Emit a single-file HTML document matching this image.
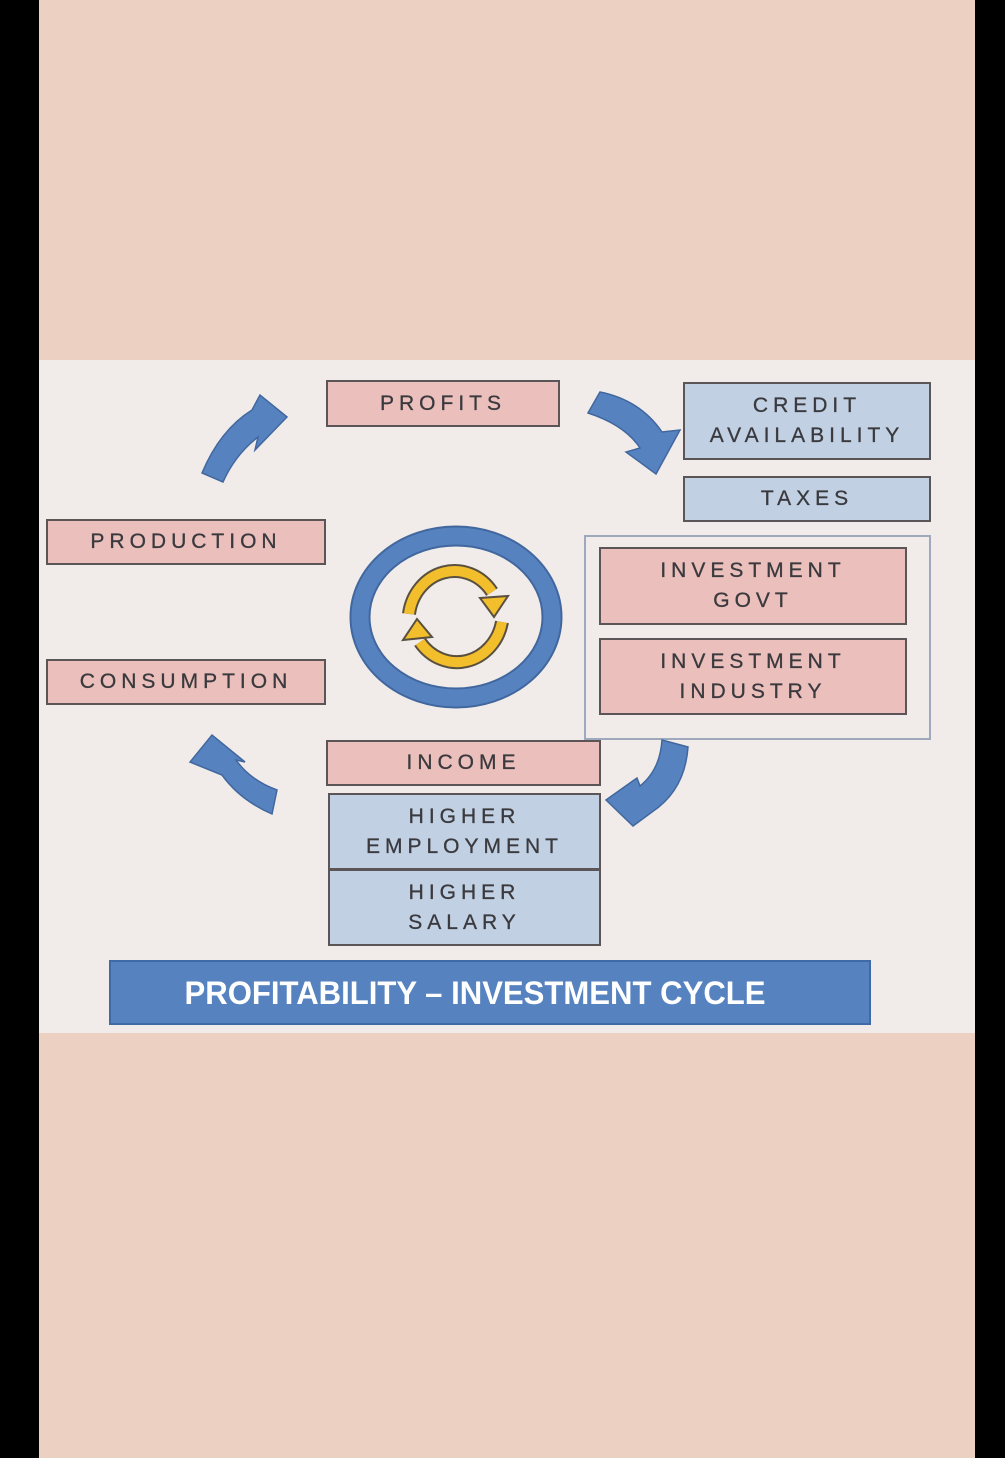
<!DOCTYPE html>
<html><head><meta charset="utf-8"><style>
body{margin:0;width:1005px;height:1458px;background:#000;position:relative;overflow:hidden;font-family:"Liberation Sans",sans-serif}
.peach{position:absolute;left:39px;width:936px;background:#ecd0c1}
.bx{position:absolute;box-sizing:border-box;border:2px solid #5b5558;display:flex;flex-direction:column;align-items:center;justify-content:center;color:#3a3a3e;font-size:21px;letter-spacing:5px;line-height:30px;text-indent:0;text-align:center;-webkit-text-stroke:0.3px #3a3a3e}
.p{background:#ebbfbb}
.b{background:#c1d0e3}
</style></head><body>
<div class="peach" style="top:0;height:360px"></div>
<div class="peach" style="top:1033px;height:425px"></div>
<div style="position:absolute;left:39px;top:360px;width:936px;height:673px;background:#f1ece9"></div>
<div style="position:absolute;left:584px;top:535px;width:347px;height:205px;box-sizing:border-box;border:2px solid #9fa9bd"></div>

<div class="bx p" style="left:326px;top:380px;width:234px;height:47px">PROFITS</div>
<div class="bx b" style="left:683px;top:382px;width:248px;height:78px">CREDIT<br>AVAILABILITY</div>
<div class="bx b" style="left:683px;top:476px;width:248px;height:46px">TAXES</div>
<div class="bx p" style="left:599px;top:547px;width:308px;height:78px">INVESTMENT<br>GOVT</div>
<div class="bx p" style="left:599px;top:638px;width:308px;height:77px">INVESTMENT<br>INDUSTRY</div>
<div class="bx p" style="left:46px;top:519px;width:280px;height:46px">PRODUCTION</div>
<div class="bx p" style="left:46px;top:659px;width:280px;height:46px">CONSUMPTION</div>
<div class="bx p" style="left:326px;top:740px;width:275px;height:46px">INCOME</div>
<div class="bx b" style="left:328px;top:793px;width:273px;height:77px">HIGHER<br>EMPLOYMENT</div>
<div class="bx b" style="left:328px;top:869px;width:273px;height:77px">HIGHER<br>SALARY</div>
<div style="position:absolute;left:109px;top:960px;width:762px;height:65px;box-sizing:border-box;border:2px solid #3f6aa5;background:#5683c0"></div>

<svg width="1005" height="1458" style="position:absolute;left:0;top:0">
<g fill="#5683c0" stroke="#41679e" stroke-width="1.5">
<path d="M202,473 Q220,430 252,410 L260,395 L287,417 L255,450 L258,437 Q235,455 223,482 Z"/>
<path d="M600,392 Q640,400 662,432 L680,430 L656,474 L626,452 L640,448 Q625,425 588,413 Z"/>
<path d="M662,740 Q660,770 640,786 L637,778 L606,800 L633,826 L652,812 Q685,790 688,747 Z"/>
<path d="M277,790 Q250,780 236,760 L245,762 L212,735 L190,762 L222,775 Q240,800 272,814 Z"/>
</g>
<ellipse cx="456" cy="617" rx="96" ry="81" fill="none" stroke="#41679e" stroke-width="21"/>
<ellipse cx="456" cy="617" rx="96" ry="81" fill="none" stroke="#5683c0" stroke-width="17"/>
<g fill="none" stroke-linecap="butt">
<path d="M409,614 A46,50 0 0 1 492,592" stroke="#5a5040" stroke-width="14"/>
<path d="M409,614 A46,50 0 0 1 492,592" stroke="#f2be2c" stroke-width="10"/>
<path d="M502,622 A46,50 0 0 1 420,642" stroke="#5a5040" stroke-width="14"/>
<path d="M502,622 A46,50 0 0 1 420,642" stroke="#f2be2c" stroke-width="10"/>
</g>
<g fill="#f2be2c" stroke="#5a5040" stroke-width="2">
<polygon points="480,598 508,596 494,617"/>
<polygon points="432,637 403,640 417,619"/>
</g>
<text x="475" y="1004" text-anchor="middle" fill="#fff" font-family="Liberation Sans, sans-serif" font-weight="bold" font-size="32" textLength="581" lengthAdjust="spacingAndGlyphs">PROFITABILITY – INVESTMENT CYCLE</text>
</svg>
</body></html>
